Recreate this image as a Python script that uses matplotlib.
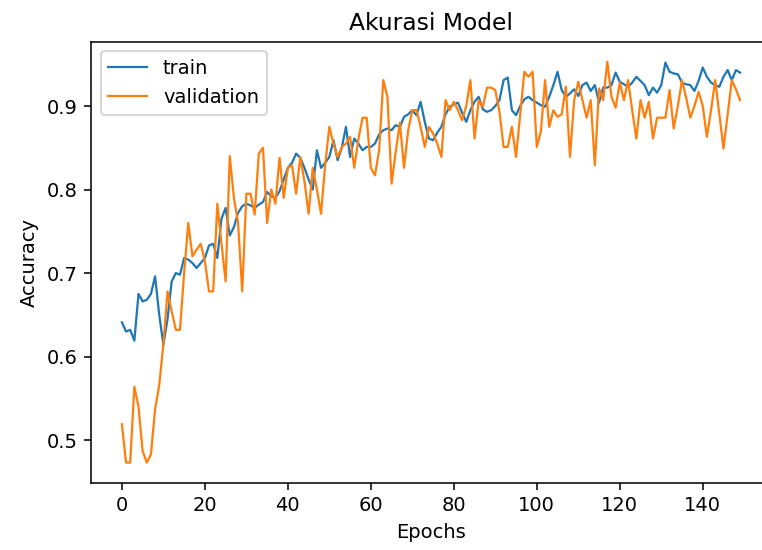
import matplotlib.pyplot as plt

# accuracy values per epoch
train = [0.641, 0.630, 0.632, 0.619, 0.675, 0.666, 0.668, 0.675, 0.696, 0.650,
         0.614, 0.645, 0.690, 0.700, 0.698, 0.718, 0.716, 0.712, 0.706, 0.712,
         0.718, 0.733, 0.735, 0.718, 0.765, 0.778, 0.745, 0.755, 0.772, 0.780,
         0.783, 0.781, 0.778, 0.782, 0.785, 0.797, 0.792, 0.790, 0.798, 0.812,
         0.826, 0.832, 0.843, 0.838, 0.826, 0.812, 0.800, 0.847, 0.826, 0.832,
         0.839, 0.859, 0.835, 0.850, 0.875, 0.839, 0.861, 0.855, 0.847, 0.851,
         0.851, 0.855, 0.866, 0.871, 0.873, 0.871, 0.877, 0.875, 0.887, 0.890,
         0.895, 0.889, 0.905, 0.881, 0.861, 0.859, 0.868, 0.875, 0.890, 0.899,
         0.902, 0.904, 0.892, 0.881, 0.895, 0.905, 0.911, 0.896, 0.893, 0.895,
         0.900, 0.907, 0.931, 0.934, 0.895, 0.889, 0.900, 0.908, 0.911, 0.907,
         0.904, 0.901, 0.899, 0.911, 0.925, 0.941, 0.919, 0.911, 0.915, 0.920,
         0.912, 0.925, 0.928, 0.918, 0.925, 0.904, 0.922, 0.922, 0.925, 0.940,
         0.929, 0.926, 0.923, 0.928, 0.935, 0.930, 0.925, 0.913, 0.922, 0.916,
         0.925, 0.952, 0.941, 0.939, 0.938, 0.928, 0.926, 0.925, 0.918, 0.930,
         0.946, 0.935, 0.928, 0.925, 0.923, 0.935, 0.943, 0.931, 0.943, 0.940]

validation = [0.519, 0.473, 0.473, 0.564, 0.540, 0.487, 0.473, 0.483, 0.537, 0.566,
              0.615, 0.678, 0.654, 0.632, 0.632, 0.700, 0.760, 0.720, 0.728, 0.735,
              0.714, 0.678, 0.678, 0.783, 0.735, 0.690, 0.840, 0.790, 0.760, 0.678,
              0.795, 0.795, 0.770, 0.843, 0.850, 0.760, 0.800, 0.783, 0.838, 0.790,
              0.826, 0.829, 0.795, 0.839, 0.810, 0.771, 0.826, 0.800, 0.771, 0.830,
              0.875, 0.855, 0.839, 0.851, 0.855, 0.863, 0.826, 0.860, 0.886, 0.886,
              0.826, 0.817, 0.847, 0.931, 0.911, 0.807, 0.845, 0.880, 0.826, 0.871,
              0.895, 0.895, 0.875, 0.851, 0.875, 0.867, 0.855, 0.839, 0.907, 0.895,
              0.905, 0.895, 0.883, 0.900, 0.931, 0.861, 0.907, 0.899, 0.922, 0.922,
              0.919, 0.893, 0.851, 0.851, 0.875, 0.839, 0.890, 0.941, 0.935, 0.941,
              0.851, 0.870, 0.931, 0.875, 0.895, 0.887, 0.890, 0.923, 0.839, 0.907,
              0.929, 0.907, 0.886, 0.907, 0.829, 0.921, 0.907, 0.953, 0.911, 0.898,
              0.928, 0.907, 0.931, 0.895, 0.861, 0.907, 0.886, 0.905, 0.861, 0.886,
              0.886, 0.886, 0.919, 0.873, 0.900, 0.931, 0.910, 0.886, 0.900, 0.917,
              0.900, 0.863, 0.895, 0.931, 0.890, 0.849, 0.890, 0.931, 0.920, 0.907]

# reference looks like a notebook figure scaled up ~1.4x, so higher dpi
fig = plt.figure(figsize=(762 / 140, 550 / 140), dpi=140)
# axes runs past the right edge, the reference image is cropped there
ax = fig.add_axes([0.1194, 0.1224, 0.8924, 0.8018])
ax.plot(train, label='train', lw=1.15)
ax.plot(validation, label='validation', lw=1.15)
ax.set_title('Akurasi Model', fontsize=12)
ax.set_xlabel('Epochs')
ax.set_ylabel('Accuracy')
ax.set_xticks([0, 20, 40, 60, 80, 100, 120, 140])
ax.set_yticks([0.5, 0.6, 0.7, 0.8, 0.9])
ax.spines['right'].set_visible(False)
ax.legend(loc='upper left')

fig.savefig('out.png', dpi=140)
